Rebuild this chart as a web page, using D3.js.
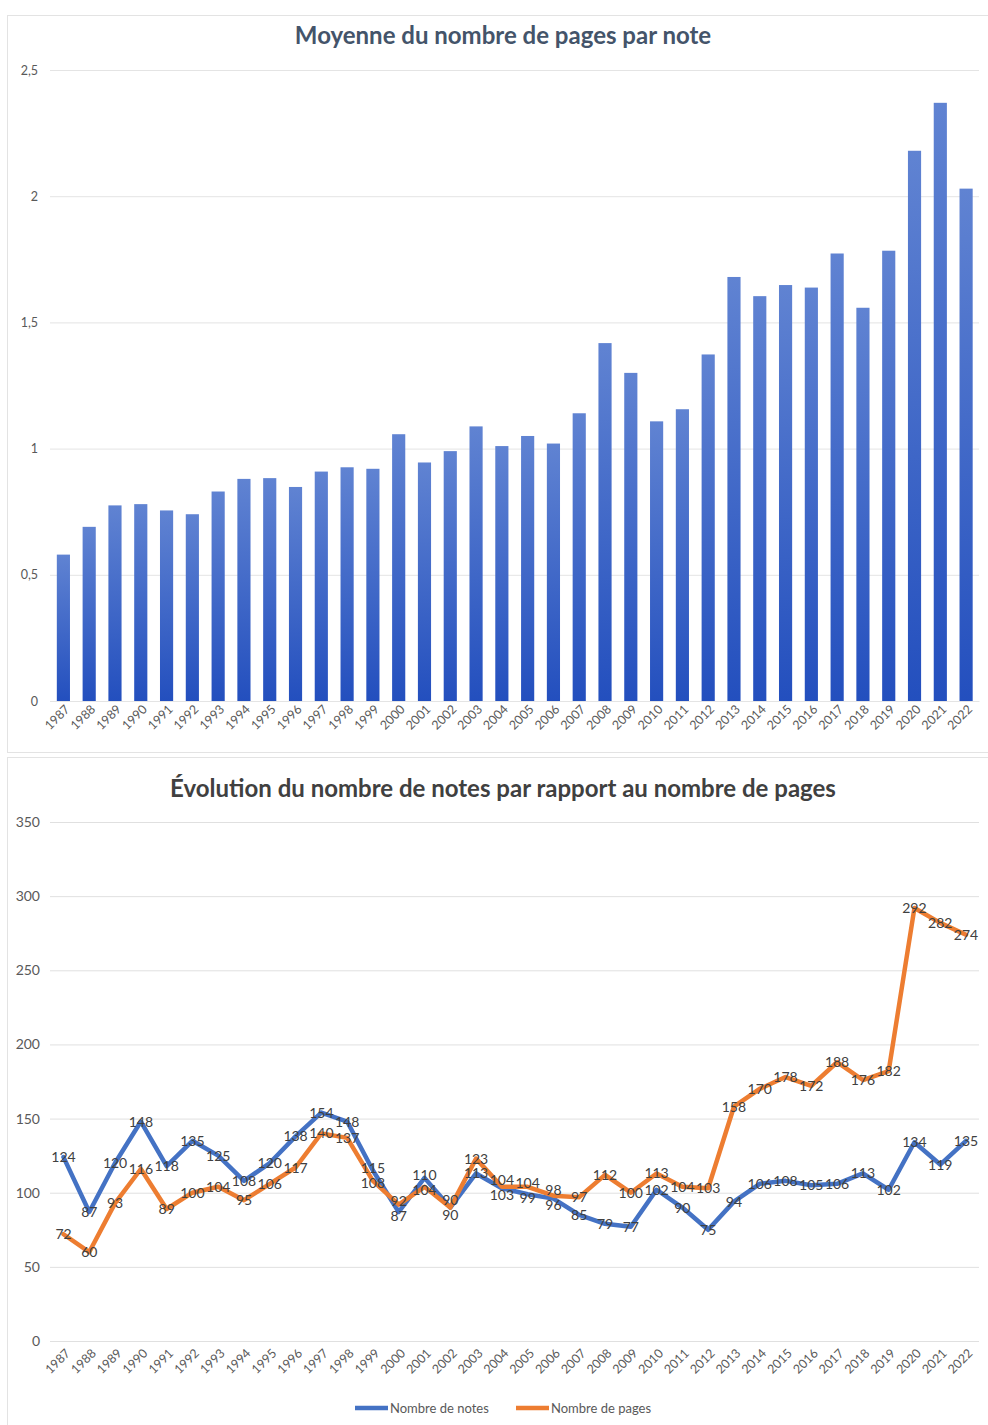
<!DOCTYPE html>
<html><head><meta charset="utf-8">
<script src="https://cdn.jsdelivr.net/npm/d3@7"></script>
<style>
body{margin:0;background:#fff;font-family:Lato,"Open Sans",sans-serif;}
svg{display:block;}
</style></head><body>
<svg id="c" width="988" height="1425"></svg>
<script>
const years = ["1987","1988","1989","1990","1991","1992","1993","1994","1995","1996","1997","1998","1999","2000","2001","2002","2003","2004","2005","2006","2007","2008","2009","2010","2011","2012","2013","2014","2015","2016","2017","2018","2019","2020","2021","2022"];
const moyenne = [0.58,0.69,0.775,0.78,0.755,0.74,0.83,0.88,0.883,0.848,0.909,0.926,0.92,1.057,0.945,0.99,1.088,1.01,1.05,1.02,1.14,1.418,1.30,1.108,1.156,1.373,1.68,1.604,1.648,1.638,1.773,1.558,1.784,2.18,2.37,2.03];
const notes = [124,87,120,148,118,135,125,108,120,138,154,148,115,87,110,90,113,103,99,96,85,79,77,102,90,75,94,106,108,105,106,113,102,134,119,135];
const pages = [72,60,93,116,89,100,104,95,106,117,140,137,108,92,104,90,123,104,104,98,97,112,100,113,104,103,158,170,178,172,188,176,182,292,282,274];
const ticksTop = [0,0.5,1,1.5,2,2.5];
const ticksBottom = [0,50,100,150,200,250,300,350];
const seriesNames = ["Nombre de notes","Nombre de pages"];
const titleTop = "Moyenne du nombre de pages par note";
const titleBottom = "Évolution du nombre de notes par rapport au nombre de pages";

const svg = d3.select("#c");
const fmt = v => String(v).replace(".", ",");

// panel cards
svg.append("rect").attr("x",7.5).attr("y",15.5).attr("width",990).attr("height",737).attr("fill","#fff").attr("stroke","#e3e3e3");
svg.append("rect").attr("x",7.5).attr("y",757.5).attr("width",990).attr("height",680).attr("fill","#fff").attr("stroke","#e3e3e3");

// gradient
const defs = svg.append("defs");
const g = defs.append("linearGradient").attr("id","bg").attr("x1",0).attr("y1",0).attr("x2",0).attr("y2",1);
g.append("stop").attr("offset","0%").attr("stop-color","#6083d2");
g.append("stop").attr("offset","100%").attr("stop-color","#234fbe");

// ---- TOP CHART ----
const x1 = d3.scaleBand().domain(years).range([50.5,979]).paddingInner(0.49).paddingOuter(0.245);
const y1 = d3.scaleLinear().domain([0,2.5]).range([701,70]);
const topG = svg.append("g");
topG.append("text").attr("x",503).attr("y",44).attr("text-anchor","middle")
  .attr("font-size",24).attr("font-weight","bold").attr("fill","#44546a").text(titleTop);
const ya1 = topG.append("g").attr("transform","translate(50,0)")
  .call(d3.axisLeft(y1).tickValues(ticksTop).tickFormat(fmt).tickSize(-929).tickPadding(12));
ya1.select(".domain").remove();
ya1.selectAll(".tick line").attr("stroke","#e4e4e4");
ya1.selectAll(".tick text").attr("font-size",12.5).attr("fill","#595959").attr("font-family","Lato,sans-serif");
topG.selectAll("rect.bar").data(moyenne).join("rect").attr("class","bar")
  .attr("x",(d,i)=>x1(years[i])).attr("width",x1.bandwidth())
  .attr("y",d=>y1(d)).attr("height",d=>y1(0)-y1(d)).attr("fill","url(#bg)");
const xa1 = topG.append("g").attr("transform","translate(0,701)").call(d3.axisBottom(x1).tickSize(0).tickPadding(0));
xa1.select(".domain").attr("stroke","#e4e4e4");
xa1.selectAll(".tick text").attr("font-size",12.5).attr("fill","#595959").attr("font-family","Lato,sans-serif")
  .attr("text-anchor","end").attr("dy",0).attr("transform","translate(7,9) rotate(-45)");

// ---- BOTTOM CHART ----
const x2 = d3.scalePoint().domain(years).range([63.5,966]);
const y2 = d3.scaleLinear().domain([0,350]).range([1341,822]);
const botG = svg.append("g");
botG.append("text").attr("x",503).attr("y",797).attr("text-anchor","middle")
  .attr("font-size",24).attr("font-weight","bold").attr("fill","#404040").text(titleBottom);
const ya2 = botG.append("g").attr("transform","translate(50,0)")
  .call(d3.axisLeft(y2).tickValues(ticksBottom).tickSize(-929).tickPadding(10));
ya2.select(".domain").remove();
ya2.selectAll(".tick line").attr("stroke","#e0e0e0");
ya2.selectAll(".tick text").attr("font-size",14).attr("fill","#595959").attr("font-family","Lato,sans-serif");
const xa2 = botG.append("g").attr("transform","translate(0,1341)").call(d3.axisBottom(x2).tickSize(0).tickPadding(0));
xa2.select(".domain").remove();
xa2.selectAll(".tick text").attr("font-size",12.5).attr("fill","#595959").attr("font-family","Lato,sans-serif")
  .attr("text-anchor","end").attr("dy",0).attr("transform","translate(7,13) rotate(-45)");

const colors = ["#4472c4","#ed7d31"];
const series = [notes, pages];
const line = d3.line().x((d,i)=>x2(years[i])).y(d=>y2(d));
series.forEach((s,k)=>{
  botG.append("path").datum(s).attr("d",line).attr("fill","none").attr("stroke",colors[k])
    .attr("stroke-width",4.5).attr("stroke-linejoin","round").attr("stroke-linecap","round");
});
// label offset: when both series are close, push the higher label up and the lower one down
function labelDy(k,i){
  const me = series[k][i], other = series[1-k][i];
  const gap = Math.abs(y2(me)-y2(other));
  if (gap >= 14) return 5;
  const push = (14-gap)/2 + 0.5;
  if (me > other || (me === other && k === 1)) return 5 - push;
  return 5 + push;
}
series.forEach((s,k)=>{
  botG.selectAll("text.lbl"+k).data(s).join("text").attr("class","lbl"+k)
    .attr("x",(d,i)=>x2(years[i])).attr("y",(d,i)=>y2(d)+labelDy(k,i)).attr("text-anchor","middle")
    .attr("font-size",14).attr("fill","#404040").attr("font-family","Lato,sans-serif").text(d=>d);
});

// legend
const leg = botG.append("g");
const legX = [355,516];
seriesNames.forEach((n,k)=>{
  leg.append("line").attr("x1",legX[k]).attr("x2",legX[k]+33).attr("y1",1408).attr("y2",1408)
    .attr("stroke",colors[k]).attr("stroke-width",4.5);
  leg.append("text").attr("x",legX[k]+35).attr("y",1412.5).attr("font-size",13)
    .attr("fill","#595959").attr("font-family","Lato,sans-serif").text(n);
});
</script>
</body></html>
